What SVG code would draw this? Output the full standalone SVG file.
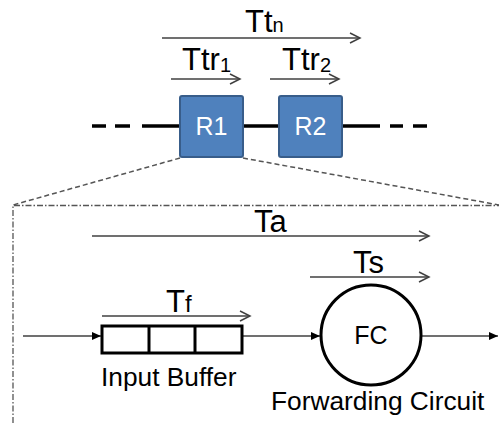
<svg xmlns="http://www.w3.org/2000/svg" width="499" height="423" viewBox="0 0 499 423">
<style>
.lbl{font-family:"Liberation Sans",Arial,sans-serif;font-size:31px;fill:#000}
.sub{font-size:20px}
.tm{stroke:#404040;stroke-width:1.5;fill:none;marker-end:url(#open)}
.thick{stroke:#000;stroke-width:3.5;fill:none}
.wire{stroke:#404040;stroke-width:1.5;fill:none;marker-end:url(#solid)}
.router{fill:#4F81BD;stroke:#385D8A;stroke-width:2}
.rt{font-family:"Liberation Sans",Arial,sans-serif;font-size:25px;fill:#fff;text-anchor:middle}
.txt{font-family:"Liberation Sans",Arial,sans-serif;font-size:26.3px;fill:#000}
</style>
<defs>
<marker id="open" markerUnits="userSpaceOnUse" markerWidth="14" markerHeight="14" refX="11" refY="6" orient="auto">
<path d="M1,1 L11,6 L1,11" fill="none" stroke="#404040" stroke-width="1.5"/>
</marker>
<marker id="solid" markerUnits="userSpaceOnUse" markerWidth="12" markerHeight="12" refX="9" refY="5" orient="auto">
<path d="M0,1 L9,5 L0,9 Z" fill="#000"/>
</marker>
</defs>

<g id="labels-top">
<text class="lbl" x="245" y="32">Tt<tspan class="sub">n</tspan></text>
<text class="lbl" x="182" y="70">Ttr<tspan class="sub" dy="2">1</tspan></text>
<text class="lbl" x="282" y="70">Ttr<tspan class="sub" dy="2">2</tspan></text>
</g>

<g id="connectors">
<line class="tm" x1="162" y1="38" x2="360" y2="38"/>
<line class="tm" x1="171" y1="79" x2="240" y2="79"/>
<line class="tm" x1="270" y1="79" x2="339" y2="79"/>
<g class="thick">
<line x1="92" y1="126" x2="106" y2="126"/>
<line x1="115" y1="126" x2="130" y2="126"/>
<line x1="142" y1="126" x2="180" y2="126"/>
<line x1="242" y1="126" x2="280" y2="126"/>
<line x1="342" y1="126" x2="380" y2="126"/>
<line x1="390" y1="126" x2="403" y2="126"/>
<line x1="413" y1="126" x2="427" y2="126"/>
</g>
<g stroke="#555" stroke-width="1.5" stroke-dasharray="5 3" fill="none">
<line x1="180" y1="158" x2="13" y2="205"/>
<line x1="243" y1="158" x2="499" y2="205"/>
</g>
<path d="M13,423 L13,205.5 L499,205.5" stroke="#555" stroke-width="1.3" stroke-dasharray="6 2 1.5 2" fill="none"/>
<line class="tm" x1="92" y1="236" x2="429" y2="236"/>
<line class="tm" x1="310" y1="277" x2="429" y2="277"/>
<line class="tm" x1="102" y1="316" x2="250" y2="316"/>
<line class="wire" x1="23" y1="336" x2="101" y2="336"/>
<line class="wire" x1="243" y1="336" x2="320" y2="336"/>
<line class="wire" x1="422" y1="336" x2="498" y2="336"/>
</g>

<g id="R1">
<rect class="router" x="180" y="96" width="63" height="61" rx="2"/>
<text class="rt" x="211.5" y="135">R1</text>
</g>
<g id="R2">
<rect class="router" x="279" y="96" width="63" height="61" rx="2"/>
<text class="rt" x="310.5" y="135">R2</text>
</g>

<g id="time-labels">
<text class="lbl" x="254" y="232">Ta</text>
<text class="lbl" x="353" y="273">Ts</text>
<text class="lbl" x="166" y="312">T<tspan font-size="24">f</tspan></text>
</g>

<g id="input-buffer">
<rect x="102" y="326" width="140" height="27" fill="#fff" stroke="#000" stroke-width="3"/>
<line x1="149" y1="326" x2="149" y2="353" stroke="#000" stroke-width="3"/>
<line x1="195" y1="326" x2="195" y2="353" stroke="#000" stroke-width="3"/>
<text class="txt" x="101" y="386">Input Buffer</text>
</g>

<g id="forwarding-circuit">
<circle cx="371" cy="335" r="50" fill="#fff" stroke="#000" stroke-width="3"/>
<text x="371" y="344" font-family="Liberation Sans, Arial, sans-serif" font-size="25" text-anchor="middle" fill="#000">FC</text>
<text class="txt" x="271" y="410">Forwarding Circuit</text>
</g>
</svg>
